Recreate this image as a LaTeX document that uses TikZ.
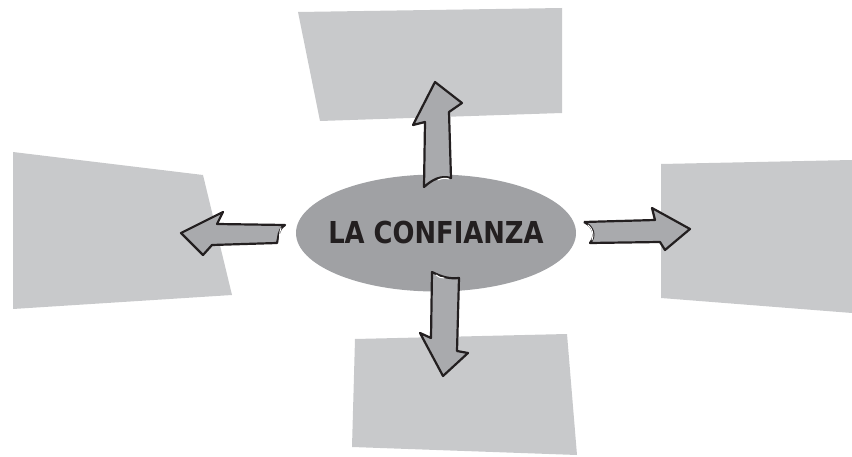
\documentclass[tikz,border=0pt]{standalone}
\usepackage{fontspec}
\usepackage{graphicx}
\usepackage[dvipsnames]{xcolor}
\usepackage{tikz}
\usetikzlibrary{shapes.geometric}
\newfontfamily\titlefont{DejaVu Sans Condensed}

\definecolor{boxgray}{HTML}{C8C9CB}
\definecolor{ovalgray}{HTML}{A0A1A4}
\definecolor{arrowgray}{HTML}{A9AAAD}
\definecolor{inkdark}{HTML}{231F20}

\begin{document}
\begin{tikzpicture}[x=1pt, y=-1pt,
	panel/.style={fill=boxgray},
	bigarrow/.style={draw=inkdark, line width=2.2pt, line join=round, fill=arrowgray},
	shine/.style={draw=white, line width=1pt, line cap=round}]
	\useasboundingbox (0,0) rectangle (852,457);

	% boxes
	\path[panel] (298,12) -- (562,8) -- (562,113) -- (320,121) -- cycle;
	\path[panel] (13,152) -- (203,175) -- (232,295) -- (13,309) -- cycle;
	\path[panel] (661,164) -- (852,160) -- (852,313) -- (661,298) -- cycle;
	\path[panel] (355,339) -- (567,334) -- (577,455) -- (352,447) -- cycle;

	\node[ellipse, fill=ovalgray, minimum width=280pt, minimum height=117pt, inner sep=0pt] (trust) at (436,233) {};
	\node[text=inkdark, font=\titlefont\bfseries\fontsize{30.2}{31}\selectfont, inner sep=0pt] (trustlabel) at (trust.center) {\scalebox{0.95}[1]{LA CONFIANZA}};

	% arrows
	\draw[bigarrow] (435,82) -- (462,103) -- (449,112) -- (451,178) .. controls (440,175) and (432,180) .. (424,187) -- (425,122) -- (413,125) -- cycle;
	\draw[bigarrow] (432,272) .. controls (442,277) and (449,279) .. (459,278) -- (457,351) -- (468,353) -- (443,376) -- (420,333) -- (431,338) -- cycle;
	\draw[bigarrow] (181,233) -- (223,212) -- (217,224) -- (285,225) .. controls (277,230) and (279,238) .. (277,243) -- (212,245) -- (203,255) -- cycle;
	\draw[bigarrow] (584,222) -- (655,220) -- (652,208) -- (690,229) -- (665,250) -- (660,242) -- (590,243) .. controls (596,236) and (594,227) .. (584,222);

	% highlights
	\draw[shine] (438,180) .. controls (442,178) and (446,178) .. (449,179);
	\draw[shine] (281,228) .. controls (279,233) and (280,238) .. (279,241);
	\draw[shine] (588,225) .. controls (593,229) and (594,235) .. (592,240);
	\draw[shine] (436,275) .. controls (438,277) and (441,278) .. (444,278);
\end{tikzpicture}
\end{document}
